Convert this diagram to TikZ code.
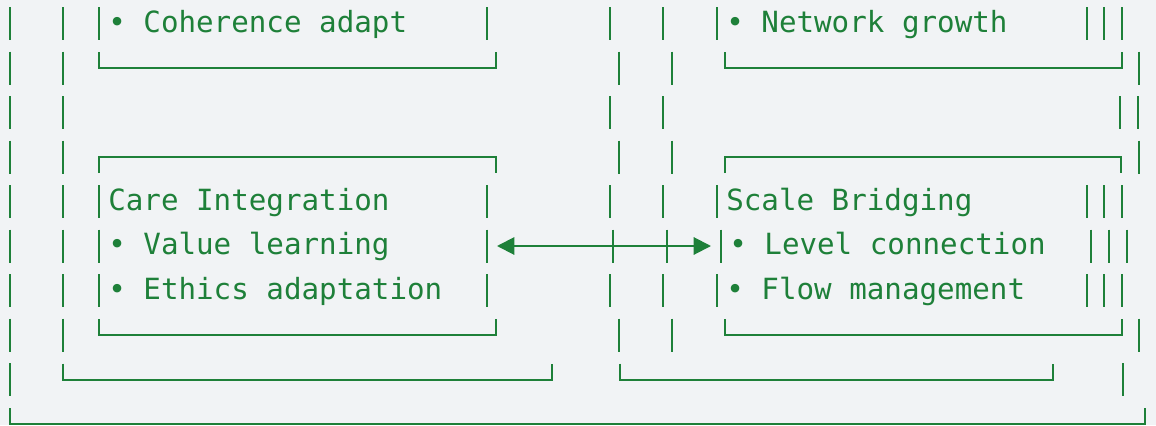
\documentclass[tikz,border=0pt]{standalone}
\usepackage{fontspec}
\newfontfamily\asciifont{DejaVu Sans Mono}
\usetikzlibrary{arrows.meta}
\definecolor{termgreen}{RGB}{30,128,57}
\definecolor{termbg}{RGB}{241,243,245}
\tikzset{
  % ASCII frame pieces
  boxline/.style   = { termgreen, line width=1.5pt },
  itemtext/.style  = { anchor=base west, inner sep=0, text=termgreen,
                       font=\asciifont\fontsize{21.9}{26}\selectfont },
  dualarrow/.style = { termgreen, line width=1.5pt,
                       {Triangle[length=13pt,width=13pt]}-{Triangle[length=13pt,width=13pt]} }
}
% one "|" glyph in a text row
\newcommand\vbar[2]{\draw[boxline] (#1,{ly(#2)-16.5}) -- (#1,{ly(#2)+16.5});}

\begin{document}
\begin{tikzpicture}[x=0.75pt, y=-0.75pt, declare function={ly(\r)=23.5+44.5*\r;}]

  \fill[termbg] (0,0) rectangle (1156,425);
  \useasboundingbox (0,0) rectangle (1156,425);

  % outer left rails
  \foreach \r in {0,...,8} \vbar{10}{\r};
  \foreach \r in {0,...,7} \vbar{63}{\r};
  \draw[boxline] (63,{ly(8)-16}) |- (552,{ly(8)}) -- (552,{ly(8)-16});
  \draw[boxline] (10,{ly(9)-16}) |- (1145,{ly(9)}) -- (1145,{ly(9)-16});

  % left boxes
  \foreach \r in {0,4,5,6} { \vbar{99}{\r} \vbar{487}{\r} }
  \draw[boxline] (99,{ly(1)-16}) |- (496,{ly(1)}) -- (496,{ly(1)-16});
  \draw[boxline] (99,{ly(3)+16}) |- (496,{ly(3)}) -- (496,{ly(3)+16});
  \draw[boxline] (99,{ly(7)-16}) |- (496,{ly(7)}) -- (496,{ly(7)-16});

  % middle rails
  \foreach \r/\x in {0/610,1/619,2/610,3/619,4/610,5/613,6/610,7/619} \vbar{\x}{\r};
  \foreach \r/\x in {0/663,1/672,2/663,3/672,4/663,5/667,6/663,7/672} \vbar{\x}{\r};
  \draw[boxline] (620,{ly(8)-16}) |- (1053,{ly(8)}) -- (1053,{ly(8)-16});

  % right boxes
  \foreach \r/\x in {0/717,4/717,5/721,6/717} \vbar{\x}{\r};
  \foreach \r in {0,4,6} { \vbar{1087}{\r} \vbar{1104}{\r} \vbar{1122}{\r} }
  \vbar{1091}{5} \vbar{1109}{5} \vbar{1127}{5}
  \draw[boxline] (725,{ly(1)-16}) |- (1122,{ly(1)}) -- (1122,{ly(1)-16});
  \draw[boxline] (725,{ly(3)+16}) |- (1121,{ly(3)}) -- (1121,{ly(3)+16});
  \draw[boxline] (725,{ly(7)-16}) |- (1122,{ly(7)}) -- (1122,{ly(7)-16});
  \foreach \r/\x in {1/1139,2/1120,2/1138,3/1139,7/1139,8/1123} \vbar{\x}{\r};

  % texts
  \node[itemtext] (coherence) at (108,{ly(0)+8.5}) {• Coherence adapt};
  \node[itemtext] (caretitle) at (108,{ly(4)+8.5}) {Care Integration};
  \node[itemtext] (valueitem) at (108,{ly(5)+8.5}) {• Value learning};
  \node[itemtext] (ethicsitem) at (108,{ly(6)+8.5}) {• Ethics adaptation};
  \node[itemtext] (networkitem) at (726,{ly(0)+8.5}) {• Network growth};
  \node[itemtext] (scaletitle) at (726,{ly(4)+8.5}) {Scale Bridging};
  \node[itemtext] (levelitem) at (729,{ly(5)+8.5}) {• Level connection};
  \node[itemtext] (flowitem) at (726,{ly(6)+8.5}) {• Flow management};

  % link between the two boxes
  \coordinate (careport) at (497,{ly(5)});
  \coordinate (scaleport) at (711,{ly(5)});
  \draw[dualarrow] (careport) -- (scaleport);

\end{tikzpicture}
\end{document}
